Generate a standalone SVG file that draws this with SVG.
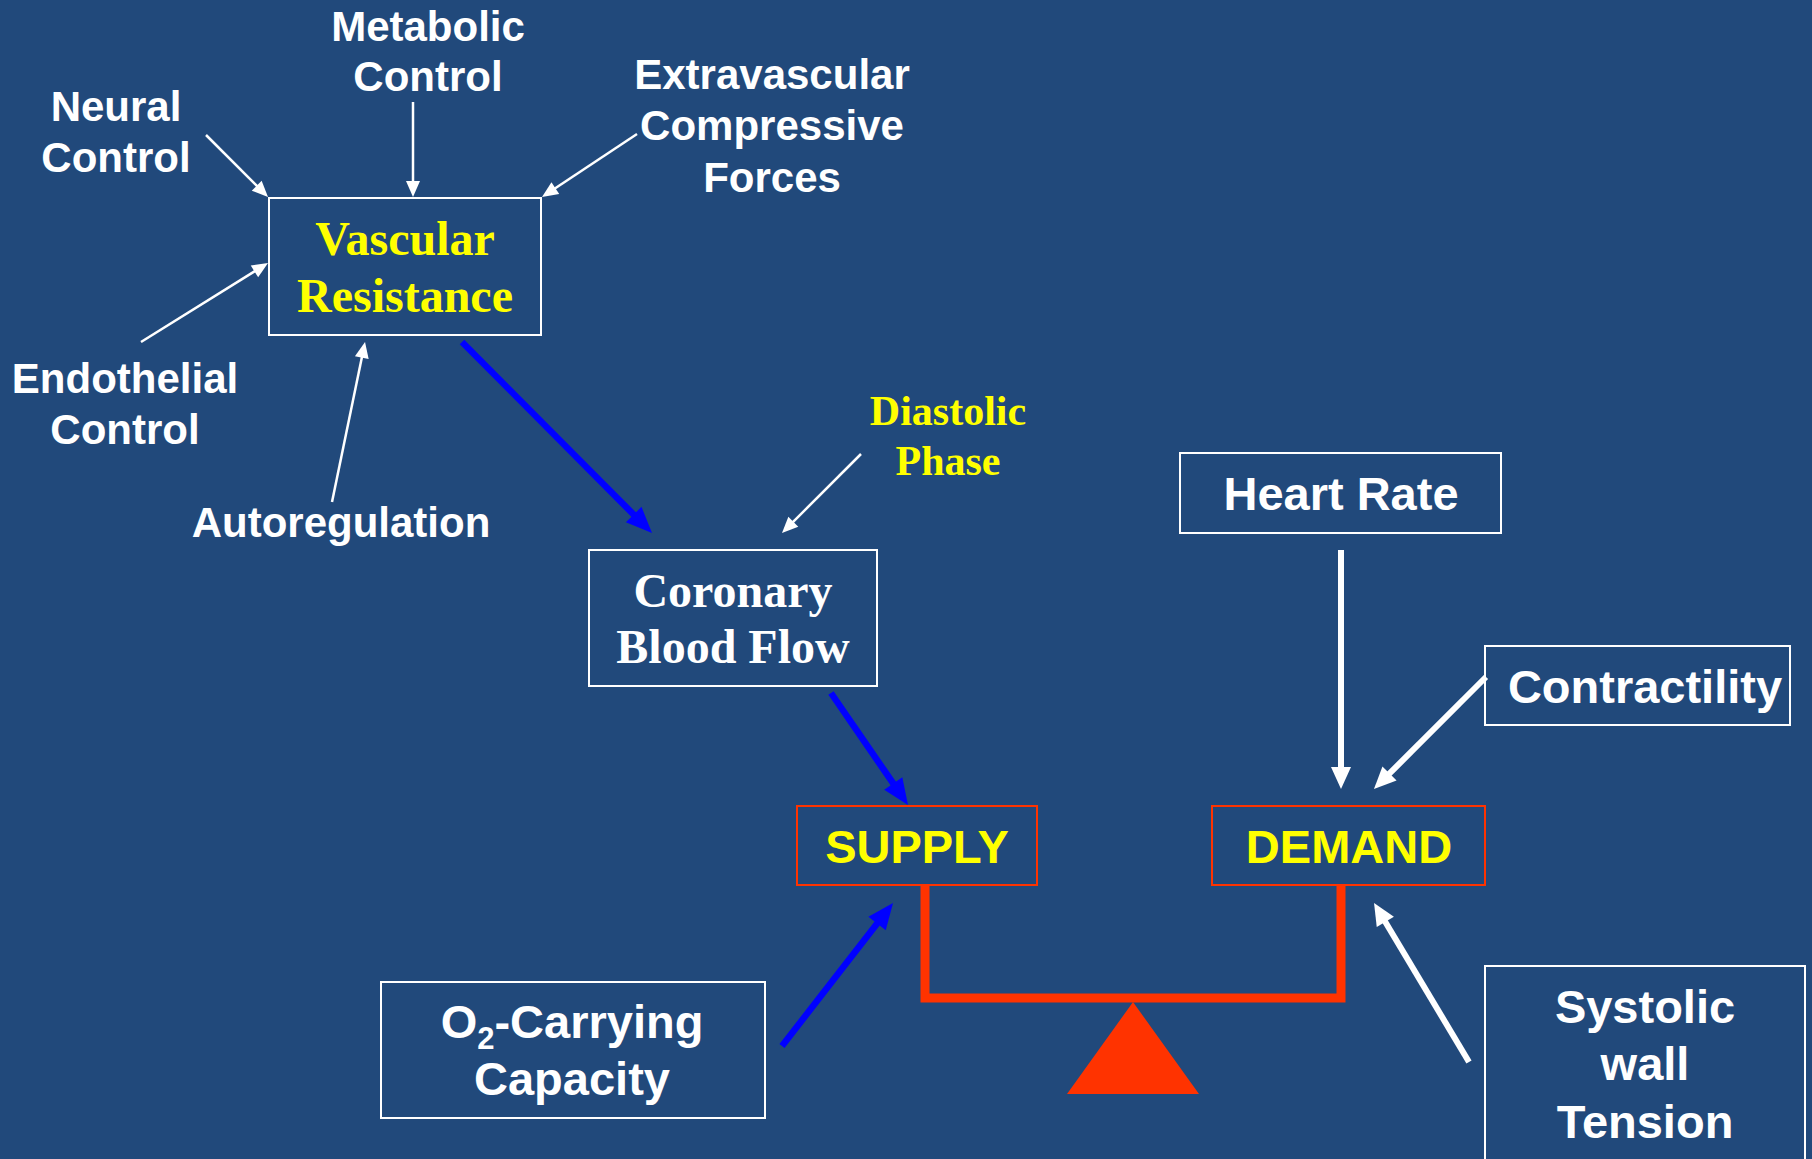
<svg xmlns="http://www.w3.org/2000/svg" width="1812" height="1159" viewBox="0 0 1812 1159">
<style>
.bg{fill:#21497B}
.box{fill:none;stroke:#FFFFFF;stroke-width:2}
.rbox{fill:none;stroke:#FF3300;stroke-width:2}
.sans{font-family:"Liberation Sans",Arial,sans-serif;font-weight:bold;text-anchor:middle}
.serif{font-family:"Liberation Serif","Times New Roman",serif;font-weight:bold;text-anchor:middle}
.w{fill:#FFFFFF}
.y{fill:#FFFF00}
.thin{stroke:#FFFFFF;stroke-width:2.5;fill:none;marker-end:url(#mThin)}
.thick{stroke:#FFFFFF;stroke-width:6;fill:none;marker-end:url(#mThick)}
.blue{stroke:#0000FF;stroke-width:6.5;fill:none;marker-end:url(#mBlue)}
</style>
<defs>
<marker id="mThin" markerUnits="userSpaceOnUse" refX="1" refY="0" markerWidth="20" markerHeight="16" orient="auto" overflow="visible"><path d="M0,-7 L16,0 L0,7 z" fill="#FFFFFF"/></marker>
<marker id="mThick" markerUnits="userSpaceOnUse" refX="2" refY="0" markerWidth="24" markerHeight="22" orient="auto" overflow="visible"><path d="M0,-10 L22,0 L0,10 z" fill="#FFFFFF"/></marker>
<marker id="mBlue" markerUnits="userSpaceOnUse" refX="2" refY="0" markerWidth="28" markerHeight="24" orient="auto" overflow="visible"><path d="M0,-11 L26,0 L0,11 z" fill="#0000FF"/></marker>
</defs>
<rect class="bg" x="0" y="0" width="1812" height="1159"/>

<g id="connectors">
<line class="thin" x1="206" y1="135" x2="257.4" y2="186.4"/>
<line class="thin" x1="413" y1="102" x2="413" y2="182"/>
<line class="thin" x1="637" y1="134" x2="554.5" y2="188.7"/>
<line class="thin" x1="141" y1="342" x2="255.3" y2="270.9"/>
<line class="thin" x1="332" y1="502" x2="362" y2="356.7"/>
<line class="thin" x1="861" y1="454" x2="792.6" y2="522.4"/>
<line class="blue" x1="462" y1="342" x2="635.1" y2="516"/>
<line class="blue" x1="831" y1="693" x2="894.4" y2="785.2"/>
<line class="blue" x1="782" y1="1046" x2="878.3" y2="922"/>
<line class="thick" x1="1341" y1="550" x2="1341" y2="769"/>
<line class="thick" x1="1486" y1="677" x2="1388.1" y2="774.9"/>
<line class="thick" x1="1469" y1="1062" x2="1384.3" y2="920.2"/>
</g>

<g id="balance">
<polyline points="925,885 925,998 1341,998 1341,885" fill="none" stroke="#FF3300" stroke-width="9"/>
<polygon points="1133,1002 1199,1094 1067,1094" fill="#FF3300"/>
</g>

<g id="neural-control">
<text class="sans w" font-size="42" x="116" y="121">Neural</text>
<text class="sans w" font-size="42" x="116" y="172">Control</text>
</g>
<g id="metabolic-control">
<text class="sans w" font-size="42" x="428" y="41">Metabolic</text>
<text class="sans w" font-size="42" x="428" y="91">Control</text>
</g>
<g id="extravascular">
<text class="sans w" font-size="42" x="772" y="89">Extravascular</text>
<text class="sans w" font-size="42" x="772" y="140">Compressive</text>
<text class="sans w" font-size="42" x="772" y="192">Forces</text>
</g>
<g id="endothelial-control">
<text class="sans w" font-size="42" x="125" y="393">Endothelial</text>
<text class="sans w" font-size="42" x="125" y="444">Control</text>
</g>
<g id="autoregulation">
<text class="sans w" font-size="42" x="341" y="537">Autoregulation</text>
</g>
<g id="vascular-resistance">
<rect class="box" x="269" y="198" width="272" height="137"/>
<text class="serif y" font-size="48" x="405" y="255">Vascular</text>
<text class="serif y" font-size="48" x="405" y="312">Resistance</text>
</g>
<g id="diastolic-phase">
<text class="serif y" font-size="42" x="948" y="425">Diastolic</text>
<text class="serif y" font-size="42" x="948" y="475">Phase</text>
</g>
<g id="coronary-blood-flow">
<rect class="box" x="589" y="550" width="288" height="136"/>
<text class="serif w" font-size="48" x="733" y="607">Coronary</text>
<text class="serif w" font-size="48" x="733" y="663">Blood Flow</text>
</g>
<g id="supply">
<rect class="rbox" x="797" y="806" width="240" height="79"/>
<text class="sans y" font-size="47" x="917" y="863">SUPPLY</text>
</g>
<g id="demand">
<rect class="rbox" x="1212" y="806" width="273" height="79"/>
<text class="sans y" font-size="47" x="1349" y="863">DEMAND</text>
</g>
<g id="heart-rate">
<rect class="box" x="1180" y="453" width="321" height="80"/>
<text class="sans w" font-size="47" x="1341" y="510">Heart Rate</text>
</g>
<g id="contractility">
<rect class="box" x="1485" y="646" width="305" height="79"/>
<text class="sans w" font-size="47" x="1645" y="703">Contractility</text>
</g>
<g id="systolic-wall-tension">
<rect class="box" x="1485" y="966" width="320" height="210"/>
<text class="sans w" font-size="47" x="1645" y="1023">Systolic</text>
<text class="sans w" font-size="47" x="1645" y="1080">wall</text>
<text class="sans w" font-size="47" x="1645" y="1138">Tension</text>
</g>
<g id="o2-carrying-capacity">
<rect class="box" x="381" y="982" width="384" height="136"/>
<text class="sans w" font-size="47" x="572" y="1038">O<tspan font-size="31" dy="11">2</tspan><tspan dy="-11">-Carrying</tspan></text>
<text class="sans w" font-size="47" x="572" y="1095">Capacity</text>
</g>
</svg>
